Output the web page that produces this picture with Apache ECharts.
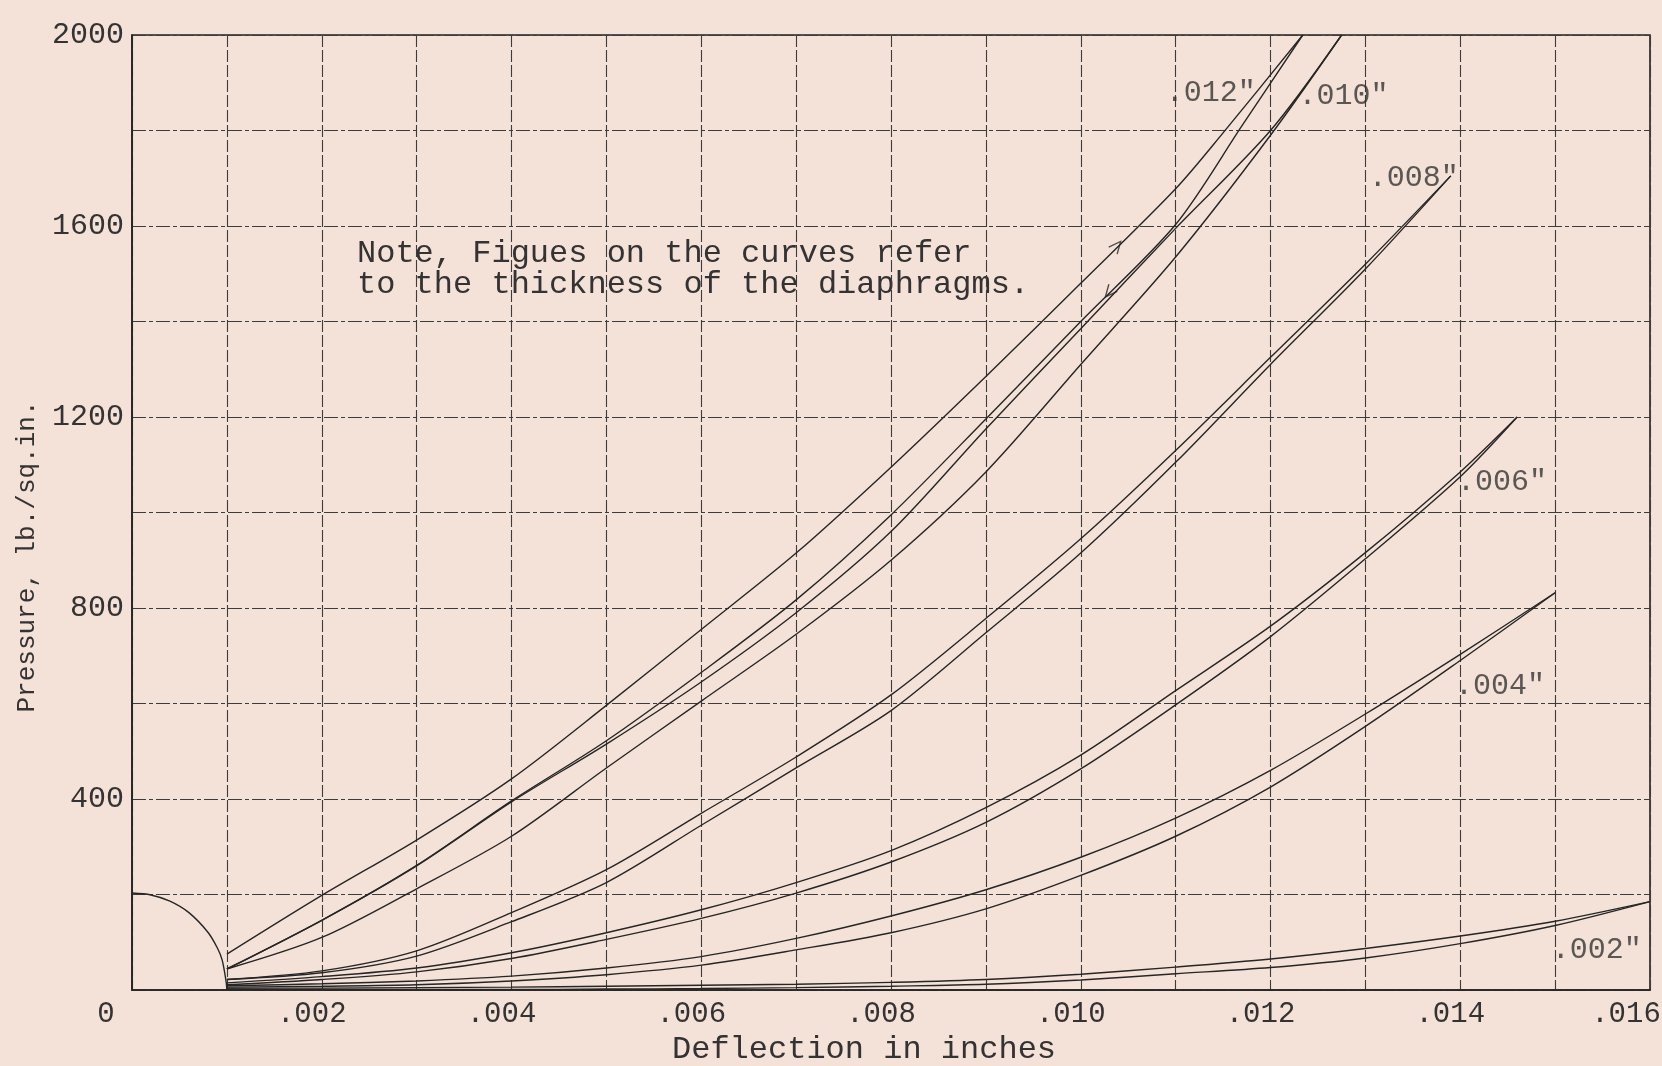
<!DOCTYPE html>
<html>
<head>
<meta charset="utf-8">
<script src="https://cdn.jsdelivr.net/npm/echarts@6/dist/echarts.min.js"></script>
<style>
html,body{margin:0;padding:0;background:#f4e1d7;}
#chart{width:1662px;height:1066px;}
</style>
</head>
<body>
<div id="chart"></div>
<script>
// ---- tick labels ----
const xTickLabels = ['0', '.002', '.004', '.006', '.008', '.010', '.012', '.014', '.016'];
const yTickLabels = ['0', '400', '800', '1200', '1600', '2000'];

// ---- curves: [deflection (in), pressure (lb/sq.in)] ----
const t012Load   = [[0.001,75],[0.002,198],[0.003,314],[0.004,442],[0.005,596],[0.006,755],[0.007,915],[0.008,1095],[0.009,1285],[0.010,1480],[0.011,1678],[0.0115,1795],[0.01234,2000]];
const t012Unload = [[0.001,44],[0.002,146],[0.003,261],[0.004,396],[0.005,522],[0.006,665],[0.007,817],[0.008,995],[0.009,1196],[0.010,1400],[0.011,1603],[0.0117,1810],[0.01234,2000]];
const t010Load   = [[0.001,44],[0.002,146],[0.003,260],[0.004,394],[0.005,515],[0.006,645],[0.007,790],[0.008,960],[0.009,1175],[0.010,1385],[0.011,1595],[0.012,1800],[0.01275,2000]];
const t010Unload = [[0.001,44],[0.002,110],[0.003,212],[0.004,322],[0.005,465],[0.006,605],[0.007,745],[0.008,900],[0.009,1085],[0.010,1310],[0.011,1535],[0.012,1790],[0.01275,2000]];
const t008Load   = [[0.001,22],[0.002,40],[0.003,82],[0.004,162],[0.005,252],[0.006,370],[0.007,488],[0.008,618],[0.009,778],[0.010,945],[0.011,1130],[0.012,1325],[0.013,1520],[0.0139,1705]];
const t008Unload = [[0.001,22],[0.002,36],[0.003,71],[0.004,143],[0.005,225],[0.006,345],[0.007,465],[0.008,585],[0.009,748],[0.010,915],[0.011,1105],[0.012,1310],[0.013,1510],[0.0139,1705]];
const t006Load   = [[0.001,15],[0.002,28],[0.003,46],[0.004,78],[0.005,120],[0.006,168],[0.007,225],[0.008,292],[0.009,382],[0.010,492],[0.011,627],[0.012,762],[0.013,916],[0.014,1085],[0.0146,1200]];
const t006Unload = [[0.001,11],[0.002,22],[0.003,38],[0.004,66],[0.005,106],[0.006,150],[0.007,203],[0.008,268],[0.009,351],[0.010,463],[0.011,597],[0.012,740],[0.013,903],[0.014,1075],[0.0146,1200]];
const t004Load   = [[0.001,9],[0.002,13],[0.003,19],[0.004,29],[0.005,46],[0.006,70],[0.007,108],[0.008,155],[0.009,210],[0.010,278],[0.011,360],[0.012,460],[0.013,578],[0.014,703],[0.015,832]];
const t004Unload = [[0.001,6],[0.002,8],[0.003,11],[0.004,19],[0.005,32],[0.006,52],[0.007,84],[0.008,120],[0.009,170],[0.010,240],[0.011,322],[0.012,425],[0.013,552],[0.014,690],[0.015,832]];
const t002Load   = [[0.001,4],[0.002,4],[0.003,5],[0.004,6],[0.005,8],[0.006,10],[0.007,12],[0.008,16],[0.009,22],[0.010,33],[0.011,48],[0.012,65],[0.013,87],[0.014,113],[0.015,144],[0.016,185]];
const t002Unload = [[0.001,2],[0.002,1],[0.003,1],[0.004,1],[0.005,2],[0.006,3],[0.007,5],[0.008,8],[0.009,12],[0.010,21],[0.011,34],[0.012,47],[0.013,67],[0.014,97],[0.015,135],[0.016,185]];

// quarter-circle at the origin
const originArc = [[0,203],[0.0002,199],[0.0004,186],[0.0006,162],[0.0008,121],[0.0009,88],[0.00095,63],[0.00099,20],[0.001,0]];

// curve labels [x, y, text]
const curveLabels = [[0.01137,1878,'.012"'],[0.01277,1873,'.010"'],[0.01351,1700,'.008"'],[0.01444,1064,'.006"'],[0.01442,636,'.004"'],[0.01544,84,'.002"']];

// direction arrows on the .012" loop [x, y, rotation]
const arrowMarks = [[0.01038,1558,-40],[0.01030,1461,140]];

const curves = [t012Load,t012Unload,t010Load,t010Unload,t008Load,t008Unload,t006Load,t006Unload,t004Load,t004Unload,t002Load,t002Unload];

const FONT = 'Liberation Mono';
const INK = '#262626';
const TXT = '#333333';

const chart = echarts.init(document.getElementById('chart'), null, {renderer:'canvas'});

const series = curves.map(d => ({
  type:'line', data:d, showSymbol:false, smooth:0.3,
  lineStyle:{color:INK, width:1.4}, silent:true, z:3, clip:true
}));
series.push({
  type:'line', data:originArc, showSymbol:false, smooth:0.3,
  lineStyle:{color:INK, width:1.4}, silent:true, z:3
});
series.push({
  type:'scatter', data:curveLabels, symbolSize:1, itemStyle:{color:'transparent'},
  label:{show:true, position:'inside', formatter:p=>p.data[2], fontFamily:FONT, fontSize:30, color:TXT},
  silent:true, z:4
});
series.push({
  type:'scatter', data:arrowMarks.map(a=>({value:[a[0],a[1]], symbolRotate:a[2]})),
  symbol:'path://M0,9 L5,0 L10,9', symbolSize:[11,12],
  itemStyle:{color:'transparent', borderColor:INK, borderWidth:1.4},
  silent:true, z:4
});

const lab = {fontFamily:FONT, fontSize:29, color:TXT};

chart.setOption({
  backgroundColor:'#f4e1d7',
  animation:false,
  grid:{left:132, right:12, top:35, bottom:76, outerBoundsMode:'none', containLabel:false,
        show:true, borderColor:'#222', borderWidth:1.6, backgroundColor:'transparent'},
  xAxis:{
    type:'value', min:0, max:0.016, interval:0.001,
    name:'Deflection in inches', nameLocation:'middle', nameGap:43,
    nameTextStyle:{fontFamily:FONT, fontSize:32, color:TXT, padding:[0,54,0,0]},
    axisLine:{show:true, lineStyle:{color:'#222', width:1.6}},
    axisTick:{show:false},
    axisLabel:{
      margin:10, fontFamily:FONT, fontSize:29, color:TXT,
      formatter:v=>{
        const k = Math.round(v*1000);
        if (k % 2 !== 0) return '';
        const s = xTickLabels[k/2];
        if (k === 0) return '{z|' + s + '}';
        if (k === 16) return '{e|' + s + '}';
        return '{n|' + s + '}';
      },
      rich:{
        z:Object.assign({padding:[0,52,0,0]}, lab),
        n:Object.assign({padding:[0,20,0,0]}, lab),
        e:Object.assign({padding:[0,48,0,0]}, lab)
      }
    },
    splitLine:{show:true, lineStyle:{color:'#3c3c3c', width:1.1, type:[12,3]}}
  },
  yAxis:{
    type:'value', min:0, max:2000, interval:200,
    name:'Pressure, lb./sq.in.', nameLocation:'middle', nameGap:92,
    nameTextStyle:{fontFamily:FONT, fontSize:26, color:TXT, padding:[0,88,0,0]},
    axisLine:{show:true, lineStyle:{color:'#222', width:1.6}},
    axisTick:{show:false},
    axisLabel:{
      margin:8, fontFamily:FONT, fontSize:30, color:TXT,
      formatter:v=>{
        const k = Math.round(v);
        if (k === 0 || k % 400 !== 0) return '';
        return yTickLabels[k/400];
      }
    },
    splitLine:{show:true, lineStyle:{color:'#3c3c3c', width:1.1, type:[14,3,4,3]}}
  },
  graphic:[{
    type:'text', left:357, top:238, silent:true,
    style:{text:'Note, Figues on the curves refer\nto the thickness of the diaphragms.', font:'32px "Liberation Mono"', fill:TXT, lineHeight:31}
  }],
  series:series
});
</script>
</body>
</html>
